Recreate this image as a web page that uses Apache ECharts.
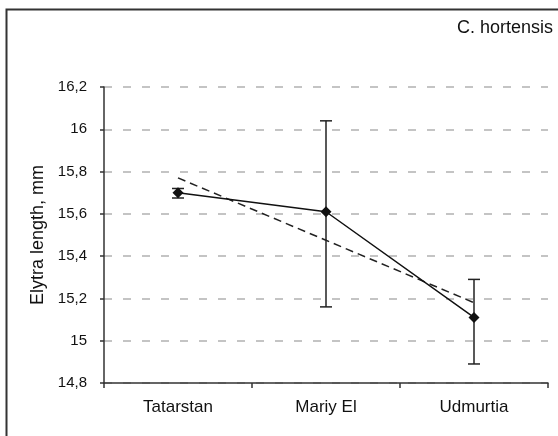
<!DOCTYPE html>
<html>
<head>
<meta charset="utf-8">
<script src="https://cdn.jsdelivr.net/npm/echarts@6/dist/echarts.min.js"></script>
<style>
  html, body { margin: 0; padding: 0; background: #fff; }
  #chart { width: 558px; height: 436px; }
</style>
</head>
<body>
<div id="chart"></div>
<script>
// values
const regions = ['Tatarstan', 'Mariy El', 'Udmurtia']
const means = [15.70, 15.61, 15.11]
const errLow = [15.675, 15.16, 14.89]
const errHigh = [15.72, 16.04, 15.29]
const trend = [15.77, 15.475, 15.18]

const errData = regions.map((r, i) => [i, errLow[i], errHigh[i]])

const dom = echarts.init(document.getElementById('chart'))
const option = {
  backgroundColor: '#fff',
  animation: false,
  textStyle: { fontFamily: 'Liberation Sans, Arial, sans-serif', color: '#111' },
  graphic: [{
    type: 'rect',
    left: 4,
    top: 7,
    shape: { width: 600, height: 480 },
    style: { fill: 'none', stroke: '#333', lineWidth: 2 },
    silent: true
  }],
  title: {
    text: 'C. hortensis',
    right: 0,
    top: 14,
    textStyle: { fontSize: 18, fontWeight: 'normal', color: '#111' }
  },
  grid: { left: 104, right: 10, top: 87, bottom: 53 },
  xAxis: {
    type: 'category',
    data: regions,
    boundaryGap: true,
    axisLine: { lineStyle: { color: '#333', width: 1.5 } },
    axisTick: { show: true, length: 5, alignWithLabel: false, lineStyle: { color: '#333', width: 1.5 } },
    axisLabel: { color: '#111', fontSize: 17, margin: 16 },
    splitLine: { show: false }
  },
  yAxis: {
    type: 'value',
    min: 14.8,
    max: 16.2,
    interval: 0.2,
    name: 'Elytra length, mm',
    nameLocation: 'middle',
    nameGap: 54,
    nameRotate: 90,
    nameTextStyle: { fontSize: 18, color: '#111' },
    axisLine: { show: true, lineStyle: { color: '#333', width: 1.5 } },
    axisTick: { show: true, length: 4, lineStyle: { color: '#333', width: 1.5 } },
    axisLabel: {
      color: '#111',
      fontSize: 15,
      margin: 17,
      formatter: function (v) {
        return String(Math.round(v * 10) / 10).replace('.', ',')
      }
    },
    splitLine: { show: true, lineStyle: { color: '#c4c4c4', width: 2, type: [8, 11] } }
  },
  series: [
    {
      type: 'line',
      data: trend,
      symbol: 'none',
      lineStyle: { color: '#222', width: 1.5, type: [8, 5] },
      z: 2
    },
    {
      type: 'custom',
      data: errData,
      renderItem: function (params, api) {
        const lo = api.coord([api.value(0), api.value(1)])
        const hi = api.coord([api.value(0), api.value(2)])
        const w = 6
        const st = { stroke: '#222', lineWidth: 1.5 }
        return {
          type: 'group',
          children: [
            { type: 'line', shape: { x1: hi[0], y1: hi[1], x2: lo[0], y2: lo[1] }, style: st },
            { type: 'line', shape: { x1: hi[0] - w, y1: hi[1], x2: hi[0] + w, y2: hi[1] }, style: st },
            { type: 'line', shape: { x1: lo[0] - w, y1: lo[1], x2: lo[0] + w, y2: lo[1] }, style: st }
          ]
        }
      },
      z: 3
    },
    {
      type: 'line',
      data: means,
      symbol: 'diamond',
      symbolSize: 11,
      itemStyle: { color: '#111' },
      lineStyle: { color: '#111', width: 1.5 },
      z: 4
    }
  ]
}
dom.setOption(option)
</script>
</body>
</html>
